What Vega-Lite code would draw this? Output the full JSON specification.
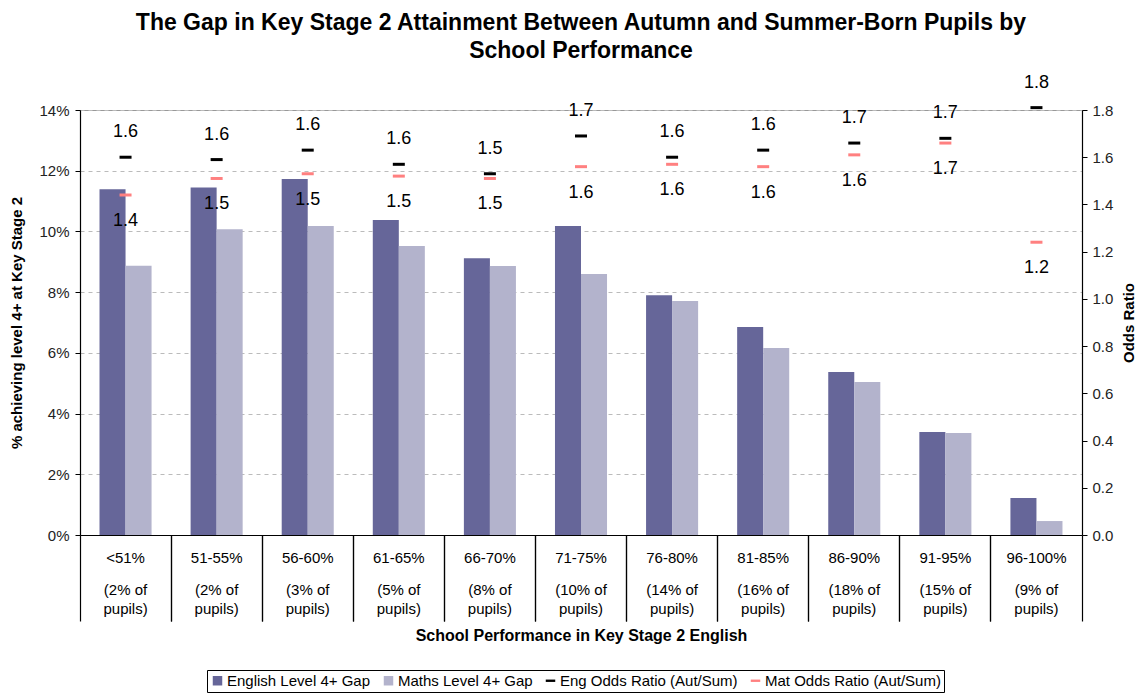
{
  "$schema": "https://vega.github.io/schema/vega-lite/v6.json",
  "autosize": {"type": "none"},
  "width": 1002,
  "height": 425,
  "padding": {"left": 80, "top": 110, "right": 60, "bottom": 158},
  "title": {
    "text": ["The Gap in Key Stage 2 Attainment Between Autumn and Summer-Born Pupils by", "School Performance"],
    "fontSize": 23,
    "fontWeight": "bold",
    "font": "Liberation Sans",
    "color": "#000",
    "anchor": "middle",
    "lineHeight": 28,
    "offset": 11
  },
  "datasets": {
    "gaps": [
      {"band": "<51% (2% of pupils)", "series": "English Level 4+ Gap", "gap": 0.1139},
      {"band": "<51% (2% of pupils)", "series": "Maths Level 4+ Gap", "gap": 0.0887},
      {"band": "51-55% (2% of pupils)", "series": "English Level 4+ Gap", "gap": 0.1145},
      {"band": "51-55% (2% of pupils)", "series": "Maths Level 4+ Gap", "gap": 0.1007},
      {"band": "56-60% (3% of pupils)", "series": "English Level 4+ Gap", "gap": 0.1173},
      {"band": "56-60% (3% of pupils)", "series": "Maths Level 4+ Gap", "gap": 0.1018},
      {"band": "61-65% (5% of pupils)", "series": "English Level 4+ Gap", "gap": 0.1038},
      {"band": "61-65% (5% of pupils)", "series": "Maths Level 4+ Gap", "gap": 0.0952},
      {"band": "66-70% (8% of pupils)", "series": "English Level 4+ Gap", "gap": 0.0912},
      {"band": "66-70% (8% of pupils)", "series": "Maths Level 4+ Gap", "gap": 0.0886},
      {"band": "71-75% (10% of pupils)", "series": "English Level 4+ Gap", "gap": 0.1018},
      {"band": "71-75% (10% of pupils)", "series": "Maths Level 4+ Gap", "gap": 0.0860},
      {"band": "76-80% (14% of pupils)", "series": "English Level 4+ Gap", "gap": 0.0790},
      {"band": "76-80% (14% of pupils)", "series": "Maths Level 4+ Gap", "gap": 0.0771},
      {"band": "81-85% (16% of pupils)", "series": "English Level 4+ Gap", "gap": 0.0685},
      {"band": "81-85% (16% of pupils)", "series": "Maths Level 4+ Gap", "gap": 0.0616},
      {"band": "86-90% (18% of pupils)", "series": "English Level 4+ Gap", "gap": 0.0537},
      {"band": "86-90% (18% of pupils)", "series": "Maths Level 4+ Gap", "gap": 0.0504},
      {"band": "91-95% (15% of pupils)", "series": "English Level 4+ Gap", "gap": 0.0339},
      {"band": "91-95% (15% of pupils)", "series": "Maths Level 4+ Gap", "gap": 0.0336},
      {"band": "96-100% (9% of pupils)", "series": "English Level 4+ Gap", "gap": 0.0122},
      {"band": "96-100% (9% of pupils)", "series": "Maths Level 4+ Gap", "gap": 0.0046}
    ],
    "odds": [
      {"band": "<51% (2% of pupils)", "series": "Eng Odds Ratio (Aut/Sum)", "ratio": 1.60},
      {"band": "<51% (2% of pupils)", "series": "Mat Odds Ratio (Aut/Sum)", "ratio": 1.44},
      {"band": "51-55% (2% of pupils)", "series": "Eng Odds Ratio (Aut/Sum)", "ratio": 1.59},
      {"band": "51-55% (2% of pupils)", "series": "Mat Odds Ratio (Aut/Sum)", "ratio": 1.51},
      {"band": "56-60% (3% of pupils)", "series": "Eng Odds Ratio (Aut/Sum)", "ratio": 1.63},
      {"band": "56-60% (3% of pupils)", "series": "Mat Odds Ratio (Aut/Sum)", "ratio": 1.53},
      {"band": "61-65% (5% of pupils)", "series": "Eng Odds Ratio (Aut/Sum)", "ratio": 1.57},
      {"band": "61-65% (5% of pupils)", "series": "Mat Odds Ratio (Aut/Sum)", "ratio": 1.52},
      {"band": "66-70% (8% of pupils)", "series": "Eng Odds Ratio (Aut/Sum)", "ratio": 1.53},
      {"band": "66-70% (8% of pupils)", "series": "Mat Odds Ratio (Aut/Sum)", "ratio": 1.51},
      {"band": "71-75% (10% of pupils)", "series": "Eng Odds Ratio (Aut/Sum)", "ratio": 1.69},
      {"band": "71-75% (10% of pupils)", "series": "Mat Odds Ratio (Aut/Sum)", "ratio": 1.56},
      {"band": "76-80% (14% of pupils)", "series": "Eng Odds Ratio (Aut/Sum)", "ratio": 1.60},
      {"band": "76-80% (14% of pupils)", "series": "Mat Odds Ratio (Aut/Sum)", "ratio": 1.57},
      {"band": "81-85% (16% of pupils)", "series": "Eng Odds Ratio (Aut/Sum)", "ratio": 1.63},
      {"band": "81-85% (16% of pupils)", "series": "Mat Odds Ratio (Aut/Sum)", "ratio": 1.56},
      {"band": "86-90% (18% of pupils)", "series": "Eng Odds Ratio (Aut/Sum)", "ratio": 1.66},
      {"band": "86-90% (18% of pupils)", "series": "Mat Odds Ratio (Aut/Sum)", "ratio": 1.61},
      {"band": "91-95% (15% of pupils)", "series": "Eng Odds Ratio (Aut/Sum)", "ratio": 1.68},
      {"band": "91-95% (15% of pupils)", "series": "Mat Odds Ratio (Aut/Sum)", "ratio": 1.66},
      {"band": "96-100% (9% of pupils)", "series": "Eng Odds Ratio (Aut/Sum)", "ratio": 1.81},
      {"band": "96-100% (9% of pupils)", "series": "Mat Odds Ratio (Aut/Sum)", "ratio": 1.24}
    ]
  },
  "config": {
    "font": "Liberation Sans",
    "view": {"stroke": "#999999", "strokeWidth": 1},
    "axis": {"labelFont": "Liberation Sans", "titleFont": "Liberation Sans", "labelColor": "#222", "titleColor": "#000", "domainColor": "#000", "tickColor": "#000"},
    "legend": {
      "orient": "none",
      "legendX": 127,
      "legendY": 560,
      "direction": "horizontal",
      "title": null,
      "labelFontSize": 15,
      "labelColor": "#000",
      "labelFont": "Liberation Sans",
      "labelLimit": 400,
      "strokeColor": "#000",
      "padding": 3,
      "columnPadding": 10,
      "labelOffset": 2,
      "symbolSize": 90,
      "symbolStrokeWidth": 0
    }
  },
  "layer": [
    {
      "data": {"name": "gaps"},
      "mark": {"type": "bar"},
      "encoding": {
        "x": {
          "field": "band",
          "type": "nominal",
          "scale": {
            "domain": ["<51% (2% of pupils)", "51-55% (2% of pupils)", "56-60% (3% of pupils)", "61-65% (5% of pupils)", "66-70% (8% of pupils)", "71-75% (10% of pupils)", "76-80% (14% of pupils)", "81-85% (16% of pupils)", "86-90% (18% of pupils)", "91-95% (15% of pupils)", "96-100% (9% of pupils)"],
            "paddingInner": 0,
            "paddingOuter": 0
          },
          "axis": {
            "orient": "bottom",
            "title": "School Performance in Key Stage 2 English",
            "titleFontSize": 16,
            "titleFontWeight": "bold",
            "titlePadding": 6,
            "labelAngle": 0,
            "labelFontSize": 15,
            "labelColor": "#000",
            "labelPadding": -71,
            "labelExpr": "split(datum.label, ' ')[0]",
            "bandPosition": 0,
            "tickSize": 86,
            "tickWidth": 1.2,
            "domainWidth": 1.2,
            "grid": false
          }
        },
        "xOffset": {
          "field": "series",
          "type": "nominal",
          "scale": {"paddingInner": 0, "paddingOuter": 0.75}
        },
        "y": {
          "field": "gap",
          "type": "quantitative",
          "scale": {"domain": [0, 0.14], "nice": false},
          "axis": {
            "orient": "left",
            "title": "% achieving level 4+ at Key Stage 2",
            "titleFontSize": 15,
            "titleFontWeight": "bold",
            "titlePadding": 14,
            "values": [0, 0.02, 0.04, 0.06, 0.08, 0.1, 0.12, 0.14],
            "format": ".0%",
            "labelFontSize": 15,
            "labelPadding": 6,
            "tickSize": 5,
            "grid": true,
            "gridColor": "#bbbbbb",
            "gridDash": [4, 4],
            "domainWidth": 1.2
          }
        },
        "color": {
          "field": "series",
          "type": "nominal",
          "scale": {
            "domain": ["English Level 4+ Gap", "Maths Level 4+ Gap", "Eng Odds Ratio (Aut/Sum)", "Mat Odds Ratio (Aut/Sum)"],
            "range": ["#666699", "#b3b3cc", "#000000", "#ff8080"]
          }
        }
      }
    },
    {
      "data": {"name": "odds"},
      "encoding": {
        "x": {
          "field": "band",
          "type": "nominal",
          "axis": {
            "orient": "bottom",
            "bandPosition": 1,
            "tickSize": 86,
            "tickWidth": 1.2,
            "labelAngle": 0,
            "labelFontSize": 15,
            "labelColor": "#000",
            "labelLineHeight": 19,
            "labelPadding": -39,
            "labelExpr": "[split(datum.label, ' ')[1] + ' of', 'pupils)']",
            "domain": false,
            "grid": false,
            "title": null
          }
        },
        "y": {
          "field": "ratio",
          "type": "quantitative",
          "scale": {"domain": [0, 1.8], "nice": false},
          "axis": {
            "orient": "right",
            "title": "Odds Ratio",
            "titleFontSize": 15,
            "titleFontWeight": "bold",
            "titleAngle": 270,
            "titlePadding": 24,
            "values": [0, 0.2, 0.4, 0.6, 0.8, 1.0, 1.2, 1.4, 1.6, 1.8],
            "format": ".1f",
            "labelFontSize": 15,
            "labelPadding": 5,
            "tickSize": 5,
            "grid": false,
            "domainWidth": 1.2
          }
        }
      },
      "layer": [
        {
          "mark": {"type": "point", "filled": true, "opacity": 1, "size": 144, "strokeWidth": 0},
          "encoding": {
            "color": {"field": "series", "type": "nominal"},
            "shape": {
              "field": "series",
              "type": "nominal",
              "scale": {
                "domain": ["English Level 4+ Gap", "Maths Level 4+ Gap", "Eng Odds Ratio (Aut/Sum)", "Mat Odds Ratio (Aut/Sum)"],
                "range": ["square", "square", "M-1,-0.25H1V0.25H-1Z", "M-1,-0.25H1V0.25H-1Z"]
              }
            }
          }
        },
        {
          "transform": [{"filter": "datum.series === 'Eng Odds Ratio (Aut/Sum)'"}],
          "mark": {"type": "text", "dy": -25, "fontSize": 18, "color": "#000", "baseline": "middle", "font": "Liberation Sans"},
          "encoding": {
            "text": {"field": "ratio", "type": "quantitative", "format": ".1f"}
          }
        },
        {
          "transform": [{"filter": "datum.series === 'Mat Odds Ratio (Aut/Sum)'"}],
          "mark": {"type": "text", "dy": 26, "fontSize": 18, "color": "#000", "baseline": "middle", "font": "Liberation Sans"},
          "encoding": {
            "text": {"field": "ratio", "type": "quantitative", "format": ".1f"}
          }
        }
      ]
    }
  ],
  "resolve": {"scale": {"y": "independent"}, "axis": {"x": "independent"}}
}
